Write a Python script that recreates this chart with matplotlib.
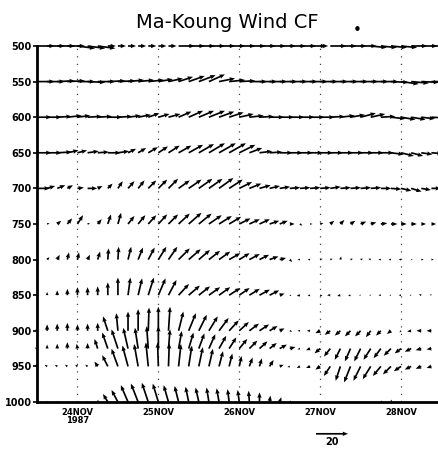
import numpy as np
import matplotlib
matplotlib.use("Agg")
import matplotlib.pyplot as plt

nan = np.nan

# === Données : vent (u, v) en m/s, toutes les 3 h, 23NOV 12Z -> 28NOV 09Z ===
times = np.arange(23.5, 28.5, 0.125)
levels = [1000, 950, 925, 900, 850, 800, 750, 700, 650, 600, 550, 500]

u1000 = [0.5, 0.5, 0.5, 0.5, 0.5, 0.5, 0.3, -3, -4, -4.5, -4.5, -4, -3.5, -3, -2.5, -2, -2, -1.5, -1.5, -1,
         -1, -0.5, 0, 0.5, 1, 0.5, nan, nan, nan, nan, nan, nan, nan, nan, 0.5, 0.5, 0.5, nan, nan, nan]
v1000 = [0, 0, 0, 0, 0, 0, 1.5, 5, 7.5, 10.5, 11.5, 12, 11.5, 10.5, 10, 9.5, 9, 9, 8.5, 8,
         7.5, 7, 6, 4, 3, 1, nan, nan, nan, nan, nan, nan, nan, nan, 1, 1.5, 1, nan, nan, nan]

u950 = [-1.5, -1.5, -1.5, -1.5, -1.5, -1.5, -2, -3.5, -4, -3.5, -2.5, -1.5, -0.5, 0.5, 1.5, 2, 2.5, 2.5, 2.5, 2,
        1.5, 2, 1.5, 2.5, 2.5, -1.5, -2, -2.5, -3, -4, -3, -4, -4.5, -5, -5, -5, -4.5, -4, -3.5, -3]
v950 = [1, 1, 1, 1, 1, 1, 3, 7, 11, 13, 14, 15, 15, 14.5, 14, 13, 12, 11, 9.5, 8,
        6.5, 5.5, 5, 4, 1, -0.5, -1, -1, -2, -6, -9, -10, -9, -8, -6, -5, -3, -2, -1.5, -1]

u925 = [-1.5, 0, 0, 0, -0.5, 0, -2, -3.5, -4, -3, -2, -1, 0, 1, 2, 3, 3.5, 4, 4.5, 4.5,
        5, 5, 5, 4.5, 4.5, 3.5, -1.5, -2.5, -3.5, -4, -3.5, -3.5, -4, -4.5, -4.5, -4.5, -4, -4, -3.5, -3]
v925 = [0.5, 2.5, 3, 4, 3, 3.5, 6, 10, 12, 13, 13, 14, 14, 12, 11, 10, 9.5, 9, 8, 7,
        6, 5, 4.5, 3.5, 2.5, 1, -0.5, -1, -3, -5, -7, -8, -8, -7, -6, -4.5, -3, -2, -1, -0.5]

u900 = [-1, 0, 0, 0, 0, 0, 0, -3, -1, 0, 0, 0.5, 0, 1, 3, 4.5, 5, 5.5, 6, 6,
        6, 6, 6, 5, 3, 1.5, -1.5, -2, -3, -3.5, -3.5, -3.5, -3.5, -3, -3, -2.5, -1, -2.5, -3, -3]
v900 = [1, 4, 4.5, 5, 4, 4.5, 5, 9, 11, 12, 13.5, 14.5, 15, 15, 12, 11, 10, 9, 8, 6.5,
        5.5, 4.5, 4, 3, 1.5, -0.5, 0, 0, -1.5, -2.5, -3, -3.5, -3.5, -4, -3, -2, -1, -0.5, 0, 0]

u850 = [0.5, 0, 0, 0, 0, 0, 0, 0, 0, 1.5, 2.5, 3.5, 4.5, 5, 6.5, 7, 7, 7, 7, 7,
        6.5, 6.5, 6.5, 6, 3, 1, -2, -1.5, 1.5, -2, -2, -1.5, -1, -1, -1.5, -1, -1.5, -1, -1.5, -1]
v850 = [0.5, 2, 3, 4, 5, 5, 5.5, 8, 11, 11, 10.5, 11, 10.5, 9.5, 7, 6, 5.5, 5, 5, 4.5,
        4.5, 4, 3.5, 3, 1, -0.5, -0.5, -0.5, -0.5, 0, -0.5, -0.5, 0, 0, 0, 0, 0, 0, 0.5, 0.5]

u800 = [1, 1.5, 1.5, 1, 1, 1.5, 1.5, 0.5, 0.5, 2, 3, 4, 5, 5.5, 7, 7.5, 7, 7, 7, 7,
        6.5, 6.5, 6, 5.5, 4, 1.5, -1.5, -1.5, 1.5, 1.5, 0.5, 1.5, 1.5, -1.5, -1.5, -1.5, -1.5, 1, 1.5, 1.5]
v800 = [0, 1.5, 3, 4.5, 4.5, 3, 5, 7, 8, 8, 7.5, 7.5, 8, 8, 7, 6.5, 6, 5.5, 5, 4,
        4, 3.5, 3, 2, 1, -1.5, 0, 0, 0.5, 0.5, 2, 0.5, 0.5, 0.5, 0, 0, 0, 0, 0, 0]

u750 = [1, 1.5, 2.5, 3, 3.5, 1.5, 2.5, 2, 2, 4, 4.5, 5, 5.5, 6, 7, 8, 8, 8, 8, 7.5,
        7, 6.5, 6.5, 6, 5, 3, 1.5, 1.5, 2, 2.5, 2.5, 3, 3.5, 3.5, 4, 4, 3.5, 3.5, 3, 3]
v750 = [0, 0.5, 2, 3.5, 5.5, 0.5, 3, 6, 7, 5, 5.5, 5.5, 6, 6, 6.5, 7, 6.5, 5.5, 5, 4.5,
        3.5, 3, 3, 2, 2, 0, -1, 0, 0.5, 2, 2.5, 2, 1.5, 1, 0.5, 0, 0, 0, 0, 0]

u700 = [8, 5, 5, 3.5, 4, 6, 3, 3, 3, 4, 4, 5, 5.5, 6, 7, 8, 8.5, 8.5, 9, 8.5,
        8, 7.5, 7, 6.5, 6.5, 6.5, 6.5, 6.5, 6.5, 6.5, 6.5, 6.5, 6.5, 6.5, 6.5, 6.5, 6.5, 6.5, 6, 6]
v700 = [0, 1.5, 2, 2, 0.5, 0, 1.5, 3, 4.5, 4.5, 5, 5, 5.5, 6, 5, 5.5, 6, 6, 6.5, 5.5,
        4, 3, 2, 1.5, 1, 0.5, 0.5, 0.5, 0.5, 1, 0.5, 0.5, 0.5, 0.5, 0, -0.5, -1.5, -2, -1, 0]

u650 = [9, 9, 9, 7, 6, 7, 7, 8, 7, 5, 5, 6, 6, 7, 8, 9, 9.5, 10, 10.5, 10.5,
        10, 8, 8, 8, 8, 8, 8, 8, 8, 8, 8, 8, 8, 8, 8, 8, 8, 7.5, 7, 7]
v650 = [0, 0, 0.5, 1.5, 1.5, 1, 0.5, 0, 1, 2.5, 3, 3.5, 4, 4.5, 4.5, 5, 5.5, 6, 6, 6,
        5, 3, 1, 0.5, 0, 0, 0, 0, 0, 0, 0, 0, 0, 0, 0, -1, -2, -2, -1, -0.5]

u600 = [9, 9, 9, 9, 8, 9, 9, 9, 9, 8, 8, 7, 7, 7.5, 8, 9, 9.5, 10, 9.5, 9,
        9, 9, 9, 9, 9, 9, 9, 9, 9, 9, 9, 9, 9.5, 9, 9, 9, 9, 9, 8.5, 8.5]
v600 = [0, 0, 0.5, 1, 1, 0.5, 0.5, 0, 0.5, 1, 1.5, 2.5, 2, 2, 3.5, 4, 4, 4, 3.5, 3,
        2, 1, 0.5, 0, 0, 0, 0, 0, 0, 0.5, 1, 1.5, 2.5, 2, 0.5, -1, -1.5, -1.5, -1, -0.5]

u550 = [11, 11, 11, 11, 11, 11, 11, 11, 11, 10, 10, 10, 9, 9, 9, 10, 10.5, 10, 10, 10,
        10, 11, 11, 11, 11, 11, 11, 11, 11, 11, 11, 11, 11, 11, 11, 11, 11, 11, 11, 11]
v550 = [0, 0, 0.5, 0.5, 0, -0.5, 0, 0.5, 0.5, 1, 1, 1, 1.5, 2, 3, 3.5, 4, 4.5, 2, 1,
        0.5, 0, 0, 0, 0, 0, 0, 0, 0, 0, 0, 0, 0, 0, 0, -0.5, -1.5, -1, -0.5, 0]

u500 = [11, 11, 11, 11, 11, 11, 11, 5, 5, 5, 5, 5, 5, 5, 10, 10, 10, 10, 10, 10,
        10, 10, 10, 10, 10, 10, 10, 10, 5, 10, 10, 10, 10, 10, 10, 10, 10, 10, 10, 10]
v500 = [0, 0, 0, 0, -1.5, -1.5, -1.5, 0, 0, 0, 0, 0, 0, 0, 0, 0, 0, 0, 0, 0,
        0, 0, 0, 0, 0, 0, 0, 0, 0, 0, 0, 0, 0, -1, -1, -1, -1, 0, 0, 0]

day_ticks = [24, 25, 26, 27, 28]
day_labels = ["24NOV\n1987", "25NOV", "26NOV", "27NOV", "28NOV"]

U = np.array([u1000, u950, u925, u900, u850, u800, u750, u700, u650, u600, u550, u500])
V = np.array([v1000, v950, v925, v900, v850, v800, v750, v700, v650, v600, v550, v500])
T, P = np.meshgrid(times, levels)

# === Figure ===
fig = plt.figure(figsize=(4.38, 4.50), dpi=100)
ax = fig.add_axes([0.0845, 0.1067, 0.9155 + 0.008, 0.7911])

for d in day_ticks:
    ax.axvline(d, color="0.25", lw=0.9, ls=(0, (1, 5)), zorder=0)

q = ax.quiver(T, P, U, V, color="black", pivot="tail", angles="uv",
              scale_units="inches", scale=62.5, width=0.0042,
              headwidth=2.6, headlength=3.2, headaxislength=2.9,
              minlength=0.8, zorder=3)
q.set_clip_on(False)

ax.set_xlim(23.5, 28.5)
ax.set_ylim(1000, 500)
ax.set_yticks(range(500, 1001, 50))
ax.set_yticklabels([str(p) for p in range(500, 1001, 50)], fontsize=7, fontweight="bold")
ax.set_xticks(day_ticks)
ax.set_xticklabels(day_labels, fontsize=6, fontweight="bold", linespacing=0.9)
ax.tick_params(axis="y", length=3, width=1.2, pad=1)
ax.tick_params(axis="x", length=0, pad=4)

for s in ["top", "right"]:
    ax.spines[s].set_visible(False)
ax.spines["left"].set_linewidth(2)
ax.spines["bottom"].set_linewidth(2)

fig.text(0.52, 0.949, "Ma-Koung Wind CF", ha="center", va="center", fontsize=14)
fig.text(0.815, 0.933, "\u2022", ha="center", va="center", fontsize=11)

ax.quiverkey(q, 0.758, 0.036, 20, "20", labelpos="S", coordinates="figure",
             labelsep=0.03, fontproperties={"size": 7, "weight": "bold"})

plt.savefig("out.png", dpi=100)
